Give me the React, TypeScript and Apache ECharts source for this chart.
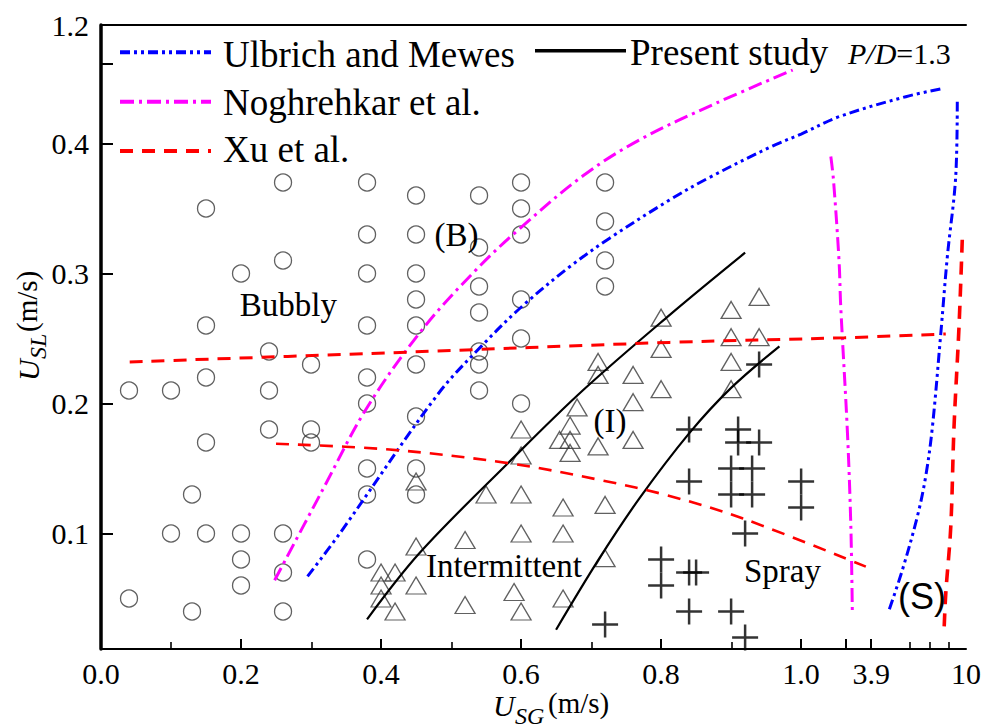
import React, { useEffect, useRef } from 'react';
import * as echarts from 'echarts';

// ---------- data: [U_SG (m/s), U_SL (m/s)] ----------
const bubblyPoints: [number, number][] = [
  [0.04, 0.21], [0.04, 0.05],
  [0.10, 0.21], [0.10, 0.10],
  [0.13, 0.13], [0.13, 0.04],
  [0.15, 0.35], [0.15, 0.26], [0.15, 0.22], [0.15, 0.17], [0.15, 0.10],
  [0.20, 0.30], [0.20, 0.10], [0.20, 0.08], [0.20, 0.06],
  [0.24, 0.24], [0.24, 0.21], [0.24, 0.18],
  [0.26, 0.37], [0.26, 0.31], [0.26, 0.10], [0.26, 0.07], [0.26, 0.04],
  [0.30, 0.23], [0.30, 0.18], [0.30, 0.17],
  [0.38, 0.37], [0.38, 0.33], [0.38, 0.30], [0.38, 0.26], [0.38, 0.22], [0.38, 0.20], [0.38, 0.15], [0.38, 0.13], [0.38, 0.08],
  [0.45, 0.36], [0.45, 0.33], [0.45, 0.30], [0.45, 0.28], [0.45, 0.26], [0.45, 0.23], [0.45, 0.19], [0.45, 0.15], [0.45, 0.13],
  [0.54, 0.36], [0.54, 0.32], [0.54, 0.29], [0.54, 0.27], [0.54, 0.24], [0.54, 0.23], [0.54, 0.21],
  [0.60, 0.37], [0.60, 0.35], [0.60, 0.33], [0.60, 0.28], [0.60, 0.25], [0.60, 0.20],
  [0.72, 0.37], [0.72, 0.34], [0.72, 0.31], [0.72, 0.29],
];

const intermittentPoints: [number, number][] = [
  [0.40, 0.07], [0.42, 0.07], [0.40, 0.06], [0.40, 0.05], [0.42, 0.04],
  [0.45, 0.14], [0.45, 0.09], [0.45, 0.06],
  [0.52, 0.095], [0.52, 0.045],
  [0.55, 0.13],
  [0.59, 0.055], [0.60, 0.04], [0.60, 0.10], [0.60, 0.13], [0.60, 0.16], [0.60, 0.18],
  [0.66, 0.12], [0.66, 0.10], [0.66, 0.05],
  [0.655, 0.172], [0.67, 0.183], [0.67, 0.172], [0.67, 0.162], [0.68, 0.197],
  [0.71, 0.232], [0.71, 0.222], [0.71, 0.167],
  [0.72, 0.122], [0.72, 0.081],
  [0.76, 0.222], [0.76, 0.201], [0.76, 0.172],
  [0.80, 0.266], [0.80, 0.242], [0.80, 0.211],
  [0.90, 0.272], [0.90, 0.251], [0.90, 0.232], [0.90, 0.211],
  [0.94, 0.282], [0.94, 0.251],
];

const sprayPoints: [number, number][] = [
  [0.72, 0.03], [0.80, 0.08], [0.80, 0.06],
  [0.84, 0.18], [0.84, 0.14], [0.84, 0.07], [0.85, 0.07], [0.84, 0.04],
  [0.90, 0.15], [0.90, 0.13], [0.90, 0.04],
  [0.91, 0.18], [0.91, 0.17], [0.92, 0.10], [0.92, 0.02],
  [0.93, 0.15], [0.93, 0.13], [0.94, 0.23], [0.94, 0.17],
  [1.0, 0.14], [1.0, 0.12],
];

// transition boundaries
const presentUpper: [number, number][] = [
  [0.380, 0.034], [0.455, 0.085], [0.583, 0.155], [0.688, 0.210], [0.812, 0.268], [0.920, 0.316],
];
const presentLower: [number, number][] = [
  [0.650, 0.026], [0.712, 0.081], [0.769, 0.127], [0.840, 0.177], [0.900, 0.212], [0.969, 0.244],
];
const ulbrichMain: [number, number][] = [
  [0.295, 0.067], [0.341, 0.100], [0.481, 0.207], [0.545, 0.245],
  [0.602, 0.275], [0.669, 0.305], [0.726, 0.327], [0.812, 0.3565], [0.866, 0.373], [0.959, 0.398],
  [1.0, 0.464], [2.57, 0.581], [6.13, 0.716], [8.59, 0.773],
];
const ulbrichRight: [number, number][] = [
  [9.44, 0.682], [9.34, 0.375], [8.80, 0.313], [8.38, 0.254], [7.84, 0.182], [7.41, 0.144],
  [6.87, 0.113], [5.91, 0.072], [5.05, 0.041],
];
const noghrehkarMain: [number, number][] = [
  [0.248, 0.064], [0.317, 0.134], [0.379, 0.196], [0.459, 0.257], [0.536, 0.303],
  [0.597, 0.334], [0.688, 0.375], [0.769, 0.424], [0.878, 0.671], [0.988, 0.896],
];
const noghrehkarRight: [number, number][] = [
  [2.23, 0.390], [2.34, 0.372], [2.57, 0.310], [2.64, 0.275], [2.92, 0.177], [3.06, 0.105], [3.12, 0.041],
];
const xuUpper: [number, number][] = [
  [0.041, 0.232], [0.412, 0.239], [0.812, 0.247], [2.80, 0.2506], [8.70, 0.2535],
];
const xuLower: [number, number][] = [
  [0.250, 0.169], [0.412, 0.1646], [0.583, 0.154], [0.716, 0.1408], [0.807, 0.1296], [0.916, 0.1117], [3.68, 0.0745],
];
const xuRight: [number, number][] = [
  [9.76, 0.326], [9.55, 0.259], [9.23, 0.182], [9.02, 0.105], [8.70, 0.054], [8.59, 0.026],
];

// axis ticks (real units)
const xTickValues = [0, 0.2, 0.4, 0.6, 0.8, 1.0, 3.9, 10];
const xTickLabels = ['0.0', '0.2', '0.4', '0.6', '0.8', '1.0', '3.9', '10'];
const xMajorTickValues = [0, 0.2, 0.4, 0.6, 0.8, 1.0, 2.83, 3.9];
const xMinorTickValues = [0.1, 0.3, 0.5, 0.7, 0.9, 6.3, 7.6, 8.8];
const yTickValues = [0.1, 0.2, 0.3, 0.4, 1.2];
const yTickLabels = ['0.1', '0.2', '0.3', '0.4', '1.2'];
const yMajorTickValues = [0.1, 0.2, 0.3, 0.4, 0.94];

// broken axes: real value -> plotted value
function xd(x: number): number {
  if (x <= 1) return x;
  if (x <= 3.9) return 1 + ((x - 1) * 0.1) / 2.9;
  return 1.1 + ((x - 3.9) * 0.1355) / 6.1;
}
function yd(y: number): number {
  if (y <= 0.4) return y;
  return 0.4 + (y - 0.4) * 0.113942;
}
const XMIN = 0;
const XMAX = xd(10);
const YMIN = 0.01115;
const YMAX = yd(1.2);

const SERIF = '"Liberation Serif", "Times New Roman", serif';
const SANS = '"Liberation Sans", Arial, sans-serif';

const PLUS = 'path://M0,11.75H26V14.25H0Z M11.75,0H14.25V26H11.75Z';

const BLUE_DASH = [10, 4, 3, 4, 3, 4];
const MAGENTA_DASH = [14, 5, 3, 5];
const RED_DASH = [13, 9];

function tr(pts: [number, number][]) {
  return pts.map((p) => [xd(p[0]), yd(p[1])]);
}

function labelFor(values: number[], labels: string[], map: (v: number) => number) {
  return (v: number) => {
    const i = values.findIndex((t) => Math.abs(map(t) - v) < 1e-6);
    return i >= 0 ? labels[i] : '';
  };
}

function lineSeries(name: string, pts: [number, number][], color: string, width: number, dash: any) {
  return {
    type: 'line',
    name,
    data: tr(pts),
    xAxisIndex: 0,
    yAxisIndex: 0,
    smooth: 0.35,
    symbol: 'none',
    showSymbol: false,
    silent: true,
    lineStyle: { color, width, type: dash },
    z: 5,
  };
}

function txt(x: number, y: number, text: string, fontSize: number, opts: any = {}) {
  return {
    type: 'text',
    x,
    y,
    rotation: opts.rotation || 0,
    silent: true,
    z: 20,
    style: {
      text,
      fontSize,
      fontFamily: opts.fontFamily || SERIF,
      fontStyle: opts.fontStyle || 'normal',
      fill: '#000',
      align: opts.align || 'left',
      verticalAlign: 'middle',
      rich: opts.rich,
    },
  };
}

function legendLine(x1: number, x2: number, y: number, color: string, dash: any, w: number) {
  return {
    type: 'line',
    silent: true,
    z: 20,
    shape: { x1, y1: y, x2, y2: y },
    style: { stroke: color, lineWidth: w, lineDash: dash },
  };
}

export default function App() {
  const ref = useRef<HTMLDivElement>(null);

  useEffect(() => {
    if (!ref.current) return;
    const chart = echarts.init(ref.current, undefined, { renderer: 'svg' });
    const gridPos = { left: 101, top: 25, width: 866, height: 624 };

    const option: any = {
      animation: false,
      backgroundColor: '#fff',
      grid: [
        { ...gridPos, containLabel: false },
        { ...gridPos, containLabel: false },
      ],
      xAxis: [
        {
          type: 'value', gridIndex: 0, position: 'bottom', min: XMIN, max: XMAX,
          axisLine: { show: true, lineStyle: { color: '#000', width: 2 } },
          axisTick: { show: true, inside: true, length: 10, lineStyle: { color: '#000', width: 2 }, customValues: xMajorTickValues.map(xd) },
          axisLabel: {
            show: true, customValues: xTickValues.map(xd), formatter: labelFor(xTickValues, xTickLabels, xd),
            color: '#000', fontFamily: SERIF, fontSize: 30, margin: 9,
          },
          splitLine: { show: false },
        },
        {
          type: 'value', gridIndex: 0, position: 'top', min: XMIN, max: XMAX,
          axisLine: { show: true, lineStyle: { color: '#000', width: 2 } },
          axisTick: { show: false }, axisLabel: { show: false }, splitLine: { show: false },
        },
        {
          type: 'value', gridIndex: 1, position: 'bottom', min: XMIN, max: XMAX,
          axisLine: { show: false },
          axisTick: { show: true, inside: true, length: 7, lineStyle: { color: '#000', width: 1.6 }, customValues: xMinorTickValues.map(xd) },
          axisLabel: { show: false }, splitLine: { show: false },
        },
      ],
      yAxis: [
        {
          type: 'value', gridIndex: 0, position: 'left', min: YMIN, max: YMAX,
          axisLine: { show: true, lineStyle: { color: '#000', width: 2 } },
          axisTick: { show: true, inside: true, length: 12, lineStyle: { color: '#000', width: 2 }, customValues: yMajorTickValues.map(yd) },
          axisLabel: {
            show: true, customValues: yTickValues.map(yd), formatter: labelFor(yTickValues, yTickLabels, yd),
            color: '#000', fontFamily: SERIF, fontSize: 30, margin: 12,
          },
          splitLine: { show: false },
        },
        {
          type: 'value', gridIndex: 0, position: 'right', min: YMIN, max: YMAX,
          axisLine: { show: true, lineStyle: { color: '#000', width: 3.5 } },
          axisTick: { show: false }, axisLabel: { show: false }, splitLine: { show: false },
        },
        {
          type: 'value', gridIndex: 1, position: 'left', min: YMIN, max: YMAX, show: false,
        },
      ],
      series: [
        {
          type: 'scatter', name: 'Bubbly', xAxisIndex: 0, yAxisIndex: 0, silent: true,
          data: tr(bubblyPoints), symbol: 'circle', symbolSize: 17,
          itemStyle: { color: 'rgba(0,0,0,0)', borderColor: '#3a3a3a', borderWidth: 1.3 },
          z: 3,
        },
        {
          type: 'scatter', name: 'Intermittent', xAxisIndex: 0, yAxisIndex: 0, silent: true,
          data: tr(intermittentPoints), symbol: 'triangle', symbolSize: [20, 17],
          itemStyle: { color: 'rgba(0,0,0,0)', borderColor: '#3a3a3a', borderWidth: 1.3 },
          z: 3,
        },
        {
          type: 'scatter', name: 'Spray', xAxisIndex: 0, yAxisIndex: 0, silent: true,
          data: tr(sprayPoints), symbol: PLUS, symbolSize: 26,
          itemStyle: { color: '#000' },
          z: 3,
        },
        lineSeries('Present study upper', presentUpper, '#000', 2.2, 'solid'),
        lineSeries('Present study lower', presentLower, '#000', 2.2, 'solid'),
        lineSeries('Ulbrich and Mewes', ulbrichMain, '#0000ff', 3, BLUE_DASH),
        lineSeries('Ulbrich and Mewes (S)', ulbrichRight, '#0000ff', 3, BLUE_DASH),
        lineSeries('Noghrehkar et al.', noghrehkarMain, '#ff00ff', 3, MAGENTA_DASH),
        lineSeries('Noghrehkar et al. (S)', noghrehkarRight, '#ff00ff', 3, MAGENTA_DASH),
        lineSeries('Xu et al.', xuUpper, '#ff0000', 3, RED_DASH),
        lineSeries('Xu et al. (I)', xuLower, '#ff0000', 2.6, RED_DASH),
        lineSeries('Xu et al. (S)', xuRight, '#ff0000', 3.6, RED_DASH),
      ],
      graphic: [
        // legend
        legendLine(120, 211, 52.3, '#0000ff', BLUE_DASH, 4),
        txt(223, 54.5, 'Ulbrich and Mewes', 37),
        legendLine(535, 626, 50.7, '#000', null, 3.5),
        txt(630, 52.8, 'Present study', 37),
        txt(848, 53, '{i|P/D}{n|=1.3}', 30, {
          rich: {
            i: { fontStyle: 'italic', fontSize: 30, fontFamily: SERIF, fill: '#000' },
            n: { fontStyle: 'normal', fontSize: 30, fontFamily: SERIF, fill: '#000' },
          },
        }),
        legendLine(120, 211, 101.7, '#ff00ff', MAGENTA_DASH, 4),
        txt(223, 102.8, 'Noghrehkar et al.', 37),
        legendLine(120, 211, 151, '#ff0000', RED_DASH, 4),
        txt(223, 149.5, 'Xu et al.', 37),
        // regime labels
        txt(456.5, 234.5, '(B)', 33, { align: 'center' }),
        txt(288.3, 305, 'Bubbly', 33, { align: 'center' }),
        txt(610, 421, '(I)', 33, { align: 'center' }),
        txt(504, 566, 'Intermittent', 33, { align: 'center' }),
        txt(782.5, 571, 'Spray', 33, { align: 'center' }),
        txt(922, 596, '(S)', 36, { align: 'center', fontFamily: SANS }),
        // x axis title
        txt(493, 705, 'U', 30, { fontStyle: 'italic' }),
        txt(515, 716, 'SG', 24, { fontStyle: 'italic' }),
        txt(548, 703, '(m/s)', 29),
        // y axis title (rotated)
        txt(28, 381, 'U', 30, { fontStyle: 'italic', rotation: Math.PI / 2 }),
        txt(37.5, 359, 'SL', 24, { fontStyle: 'italic', rotation: Math.PI / 2 }),
        txt(27, 332, '(m/s)', 29, { rotation: Math.PI / 2 }),
      ],
    };

    chart.setOption(option);
    return () => {
      chart.dispose();
    };
  }, []);

  return (
    <div
      ref={ref}
      style={{ position: 'absolute', left: 0, top: 0, width: 984, height: 728, background: '#fff' }}
    />
  );
}
